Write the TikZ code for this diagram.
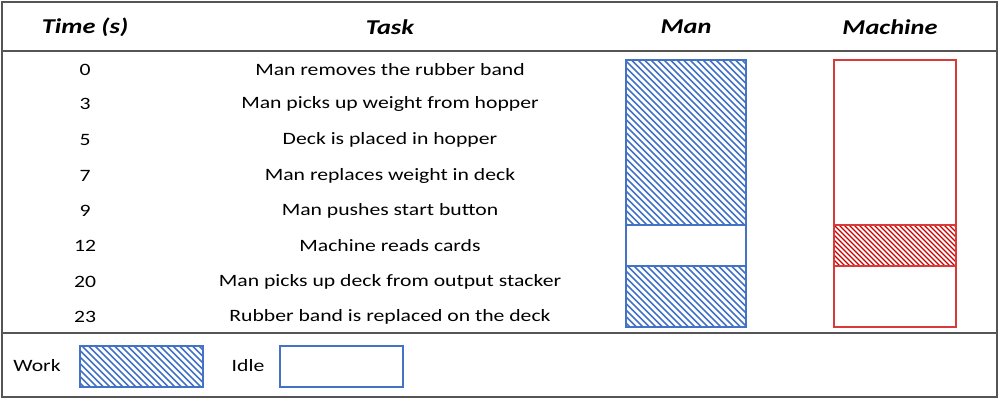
\documentclass[tikz,border=0pt]{standalone}
\usepackage{fontspec}
\setmainfont{Carlito}
\newfontfamily\widefont[FakeStretch=1.25]{Carlito}
\definecolor{manblue}{HTML}{4472C4}
\definecolor{machred}{HTML}{D83A3A}
\definecolor{hatchred}{HTML}{C80000}
\definecolor{rulegray}{HTML}{555555}
\tikzset{
  head/.style={font=\widefont\fontsize{18}{21}\selectfont\bfseries\itshape},
  cell/.style={font=\widefont\fontsize{14.8}{17}\selectfont},
  rule/.style={draw=rulegray, line width=1.6pt},
  manbox/.style={draw=manblue, line width=0.9pt},
  machbox/.style={draw=machred, line width=0.9pt},
  manhatch/.style={manblue, line width=1.35pt},
  machhatch/.style={hatchred, line width=1.2pt}
}
\begin{document}
\begin{tikzpicture}[x=0.3mm, y=-0.3mm]
  \useasboundingbox (0,0) rectangle (1000,400);
  % frame and rules
  \draw[rule] (2,2) rectangle (997,397);
  \draw[rule] (2,51) -- (997,51);
  \draw[rule] (2,333) -- (997,333);
  % headings
  \node[head] (htime) at (85,27) {Time (s)};
  \node[head] (htask) at (390,27) {Task};
  \node[head] (hman) at (686,27) {Man};
  \node[head] (hmach) at (890,27) {Machine};
  % rows
  \foreach \t/\y/\task [count=\i] in {
      0/70/Man removes the rubber band,
      3/104/Man picks up weight from hopper,
      5/140/Deck is placed in hopper,
      7/176/Man replaces weight in deck,
      9/211/Man pushes start button,
      12/246/Machine reads cards,
      20/282/Man picks up deck from output stacker,
      23/317/Rubber band is replaced on the deck}{
    \node[cell] (time\i) at (85,\y) {\t};
    \node[cell] (task\i) at (390,\y) {\task};
  }
  % man bar
  \begin{scope}
    \clip (626,60) rectangle (746,225);
    \foreach \s in {-170,-163.5,...,120}
      \draw[manhatch] (626+\s,60) -- ++(170,170);
  \end{scope}
  \begin{scope}
    \clip (626,266) rectangle (746,327);
    \foreach \s in {-70,-63.5,...,120}
      \draw[manhatch] (626+\s,266) -- ++(70,70);
  \end{scope}
  \draw[manbox] (626,60) rectangle (746,225);
  \draw[manbox] (626,225) rectangle (746,266);
  \draw[manbox] (626,266) rectangle (746,327);
  % machine bar
  \begin{scope}
    \clip (834,225) rectangle (956,266);
    \foreach \s in {-50,-45,...,125}
      \draw[machhatch] (834+\s,225) -- ++(50,50);
  \end{scope}
  \draw[machbox] (834,60) rectangle (956,225);
  \draw[machbox] (834,225) rectangle (956,266);
  \draw[machbox] (834,266) rectangle (956,327);
  % legend
  \node[cell] (lwork) at (37,366) {Work};
  \begin{scope}
    \clip (80,346) rectangle (203,387);
    \foreach \s in {-50,-43.5,...,125}
      \draw[manhatch] (80+\s,346) -- ++(50,50);
  \end{scope}
  \draw[manbox] (80,346) rectangle (203,387);
  \node[cell] (lidle) at (248,366) {Idle};
  \draw[manbox] (280,346) rectangle (403,387);
\end{tikzpicture}
\end{document}
